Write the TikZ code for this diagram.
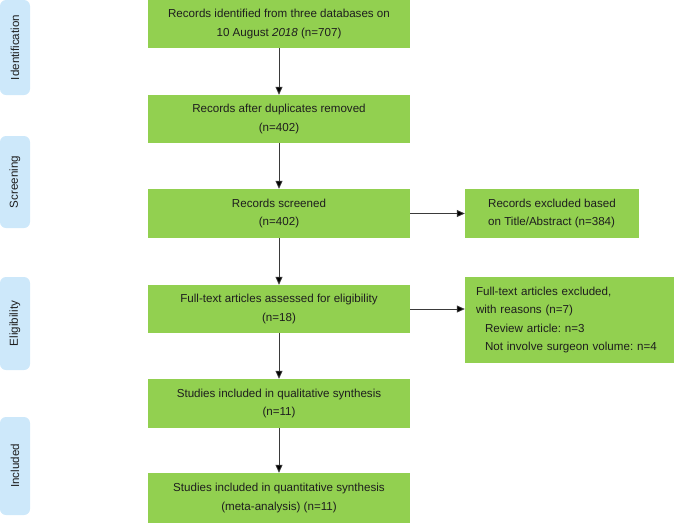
\documentclass[tikz,border=0pt]{standalone}
\usepackage{fontspec}
\setmainfont{Liberation Sans}
\usetikzlibrary{arrows.meta}
\definecolor{boxgreen}{HTML}{92D050}
\definecolor{sideblue}{HTML}{CDE8FA}
\definecolor{txt}{HTML}{1E1E1E}
\definecolor{linegray}{HTML}{3A3A3A}
\frenchspacing
\begin{document}
\begin{tikzpicture}[x=1pt,y=-1pt,
  gbox/.style={fill=boxgreen,draw=none,inner sep=0pt,text=txt,
    font=\fontsize{11.6}{18.5}\selectfont,align=center},
  side/.style={fill=sideblue,draw=none,rounded corners=6pt,inner sep=0pt,
    minimum height=30pt,text=txt,font=\fontsize{11.6}{12}\selectfont,rotate=90},
  arr/.style={draw=linegray,line width=0.8pt,-{Triangle[length=8pt,width=7pt,fill=black]}}]
\useasboundingbox (0,0) rectangle (674,523);
% side labels
\node[side,minimum width=95pt] (s1) at (15,47.5) {Identification};
\node[side,minimum width=92pt] (s2) at (15,182) {Screening};
\node[side,minimum width=93pt] (s3) at (15,323.5) {Eligibility};
\node[side,minimum width=98pt] (s4) at (15,466) {Included};
% main column
\node[gbox,minimum width=262pt,minimum height=48pt] (b1) at (279,24)
  {Records identified from three databases on\\10 August \textit{2018} (n=707)};
\node[gbox,minimum width=262pt,minimum height=48pt] (b2) at (279,119)
  {Records after duplicates removed\\(n=402)};
\node[gbox,minimum width=262pt,minimum height=49pt] (b3) at (279,213.5)
  {Records screened\\(n=402)};
\node[gbox,minimum width=262pt,minimum height=48pt] (b4) at (279,309)
  {Full-text articles assessed for eligibility\\(n=18)};
\node[gbox,minimum width=262pt,minimum height=49pt] (b5) at (279,403.5)
  {Studies included in qualitative synthesis\\(n=11)};
\node[gbox,minimum width=262pt,minimum height=50pt] (b6) at (279,498)
  {Studies included in quantitative synthesis\\(meta-analysis) (n=11)};
% right column
\node[gbox,minimum width=174pt,minimum height=49pt,align=left] (r1) at (552,213.5)
  {Records excluded based\\on Title/Abstract (n=384)};
\node[gbox,minimum width=209pt,minimum height=86pt,text width=187pt,align=left] (r2) at (569.5,320)
  {Full-text articles excluded,\\with reasons (n=7)\\\hspace*{9pt}Review article: n=3\\\hspace*{9pt}Not involve surgeon volume: n=4};
% connectors
\draw[arr] (b1.south) -- (b2.north);
\draw[arr] (b2.south) -- (b3.north);
\draw[arr] (b3.south) -- (b4.north);
\draw[arr] (b4.south) -- (b5.north);
\draw[arr] (b5.south) -- (b6.north);
\draw[arr] (b3.east) -- (r1.west);
\draw[arr] (b4.east) -- (b4.east -| r2.west);
\end{tikzpicture}
\end{document}
